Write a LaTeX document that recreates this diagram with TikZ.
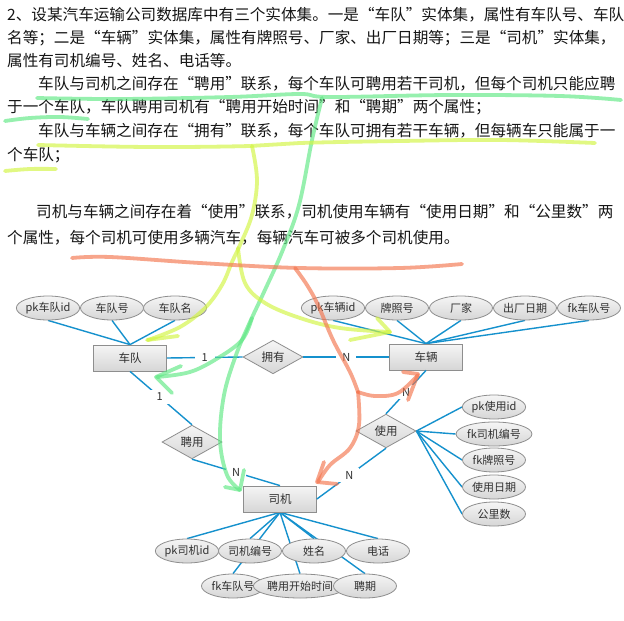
\documentclass[tikz,border=0pt]{standalone}
\usepackage{fontspec}
\setmainfont{Noto Sans CJK SC}
\usetikzlibrary{shapes.geometric}
\pgfdeclarelayer{bg}
\pgfdeclarelayer{ink}
\pgfsetlayers{bg,main,ink}
\definecolor{linkblue}{HTML}{1591CD}
\definecolor{shapeedge}{HTML}{8E8E8E}
\definecolor{shapetop}{HTML}{F5F5F5}
\definecolor{shapebot}{HTML}{D6D6D6}
\definecolor{penGreen}{HTML}{5EE884}
\definecolor{penYellow}{HTML}{D2F53F}
\definecolor{penOrange}{HTML}{F4754E}
\definecolor{textdark}{HTML}{161616}
\definecolor{labeldark}{HTML}{303030}
\newcommand\qL{\makebox[1em][r]{“}}
\newcommand\qR{\makebox[1em][l]{”}}
\tikzset{
  para/.style={anchor=west,inner sep=0pt,font=\fontsize{15.6}{16}\selectfont,text=textdark},
  attr/.style={ellipse,draw=shapeedge,line width=0.8pt,top color=shapetop,bottom color=shapebot,
    minimum width=63pt,minimum height=24pt,inner sep=0pt,font=\fontsize{11}{12}\selectfont,text=labeldark},
  entity/.style={rectangle,draw=shapeedge,line width=0.8pt,top color=shapetop,bottom color=shapebot,
    minimum width=73pt,minimum height=26pt,inner sep=0pt,font=\fontsize{11.5}{12}\selectfont,text=labeldark},
  rel/.style={diamond,draw=shapeedge,line width=0.8pt,top color=shapetop,bottom color=shapebot,
    minimum width=60pt,minimum height=33pt,inner sep=0pt,font=\fontsize{11.5}{12}\selectfont,text=labeldark},
  link/.style={draw=linkblue,line width=1.4pt},
  card/.style={fill=white,inner sep=0pt,minimum width=20pt,minimum height=14pt,font=\fontsize{11}{12}\selectfont,text=labeldark},
  pen/.style={line width=3.8pt,line cap=round,line join=round,opacity=0.65},
}
\begin{document}
\begin{tikzpicture}[x=1pt,y=-1pt]
\begin{pgfonlayer}{bg}
\fill[white] (0,0) rectangle (624,621);
\end{pgfonlayer}
\useasboundingbox (0,0) rectangle (624,621);

% ---------------- text ----------------
\node[para] (t1) at (7,15) {2、设某汽车运输公司数据库中有三个实体集。一是\qL 车队\qR 实体集，属性有车队号、车队};
\node[para] (t2) at (7,38) {名等；二是\qL 车辆\qR 实体集，属性有牌照号、厂家、出厂日期等；三是\qL 司机\qR 实体集，};
\node[para] (t3) at (7,61) {属性有司机编号、姓名、电话等。};
\node[para] (t4) at (38,84) {车队与司机之间存在\qL 聘用\qR 联系，每个车队可聘用若干司机，但每个司机只能应聘};
\node[para] (t5) at (7,107) {于一个车队，车队聘用司机有\qL 聘用开始时间\qR 和\qL 聘期\qR 两个属性；};
\node[para] (t6) at (38,131) {车队与车辆之间存在\qL 拥有\qR 联系，每个车队可拥有若干车辆，但每辆车只能属于一};
\node[para] (t7) at (7,155) {个车队；};
\node[para] (t8) at (36,212) {司机与车辆之间存在着\qL 使用\qR 联系，司机使用车辆有\qL 使用日期\qR 和\qL 公里数\qR 两};
\node[para] (t9) at (7,238) {个属性，每个司机可使用多辆汽车，每辆汽车可被多个司机使用。};

% ---------------- ER diagram nodes ----------------
\node[entity] (fleet) at (130,358) {车队};
\node[entity] (car) at (426,357) {车辆};
\node[entity] (driver) at (280,499) {司机};

\node[rel] (own) at (273,357) {拥有};
\node[rel] (hire) at (192,442) {聘用};
\node[rel] (use) at (386,431) {使用};

\node[attr] (fa1) at (48,308) {pk车队id};
\node[attr] (fa2) at (112,308) {车队号};
\node[attr] (fa3) at (175,308) {车队名};

\node[attr] (ca1) at (333,308) {pk车辆id};
\node[attr] (ca2) at (397,308) {牌照号};
\node[attr] (ca3) at (461,308) {厂家};
\node[attr] (ca4) at (525,308) {出厂日期};
\node[attr] (ca5) at (589,308) {fk车队号};

\node[attr] (ua1) at (494,407) {pk使用id};
\node[attr] (ua2) at (494,434) {fk司机编号};
\node[attr] (ua3) at (494,460) {fk牌照号};
\node[attr] (ua4) at (494,487) {使用日期};
\node[attr] (ua5) at (494,514) {公里数};

\node[attr] (da1) at (187,551) {pk司机id};
\node[attr] (da2) at (250,551) {司机编号};
\node[attr] (da3) at (314,551) {姓名};
\node[attr] (da4) at (378,551) {电话};
\node[attr] (da5) at (233,586) {fk车队号};
\node[attr] (da6) at (300,586) {聘用开始时间};
\node[attr] (da7) at (365,586) {聘期};

% ---------------- connectors ----------------
\begin{pgfonlayer}{bg}
\foreach \a in {fa1,fa2,fa3} \draw[link] (\a.south) -- (fleet.north);
\foreach \a in {ca1,ca2,ca3,ca4,ca5} \draw[link] (\a.south) -- (car.north);
\foreach \a in {ua1,ua2,ua3,ua4,ua5} \draw[link] (use.east) -- (\a.west);
\foreach \a in {da1,da2,da3,da4,da5,da6,da7} \draw[link] (driver.south) -- (\a.north);
\end{pgfonlayer}
\draw[link] (fleet.east) -- node[card,pos=0.5] (c1) {1} (own.west);
\draw[link] (own.east) -- node[card,pos=0.5] (c2) {N} (car.west);
\draw[link] (fleet.south) -- node[card,pos=0.48] (c3) {1} (hire.north);
\draw[link] (hire.south) -- node[card,pos=0.5] (c4) {N} (driver.north);
\draw[link] (car.south) -- node[card,pos=0.5] (c5) {N} (use.north);
\draw[link] (use.south) -- node[card,pos=0.53] (c6) {N} (driver.east);

% ---------------- highlighter strokes ----------------
\begin{pgfonlayer}{ink}
% green
\draw[pen,penGreen] plot[smooth,tension=0.6] coordinates {(37,98) (120,99) (230,97) (300,94) (330,97) (450,95) (560,96) (621,100)};
\draw[pen,penGreen] plot[smooth,tension=0.6] coordinates {(5,121) (30,118) (60,117) (88,119)};
\draw[pen,penGreen] plot[smooth,tension=0.6] coordinates {(322,98) (312,140) (299,205) (282,252) (264,292) (250,322) (236,355) (224,395) (220,440) (227,475) (240,490)};
\draw[pen,penGreen] plot[smooth,tension=0.6] coordinates {(252,318) (242,340) (218,358) (190,372) (157,377)};
\draw[pen,penGreen] (181,366) -- (156,377) -- (172,393);
\draw[pen,penGreen] (244,470) -- (240,490) -- (225,487);
% yellow
\draw[pen,penYellow] plot[smooth,tension=0.6] coordinates {(38,145) (150,147) (250,146) (300,143) (400,141) (500,140) (595,143)};
\draw[pen,penYellow] plot[smooth,tension=0.6] coordinates {(5,171) (30,169) (56,169)};
\draw[pen,penYellow] plot[smooth,tension=0.6] coordinates {(252,146) (257,180) (252,215) (240,245) (232,262) (222,285) (205,308) (180,327) (148,340)};
\draw[pen,penYellow] plot[smooth,tension=0.6] coordinates {(238,248) (245,283) (265,303) (300,318) (340,328) (390,332)};
\draw[pen,penYellow] (178,336) -- (147,340);
\draw[pen,penYellow] (377,318) -- (390,332) -- (350,340);
% orange
\draw[pen,penOrange] plot[smooth,tension=0.6] coordinates {(72,258) (110,257) (200,263) (300,268) (400,268) (462,264)};
\draw[pen,penOrange] plot[smooth,tension=0.6] coordinates {(295,268) (307,285) (318,305) (333,340) (350,372) (358,392)};
\draw[pen,penOrange] plot[smooth,tension=0.6] coordinates {(358,392) (375,396) (398,393) (418,375)};
\draw[pen,penOrange] plot[smooth,tension=0.6] coordinates {(358,392) (359,425) (350,448) (330,465) (318,482)};
\draw[pen,penOrange] (403,372) -- (418,374) -- (408,400);
\draw[pen,penOrange] (324,462) -- (317,482) -- (337,484);
\end{pgfonlayer}
\end{tikzpicture}
\end{document}
